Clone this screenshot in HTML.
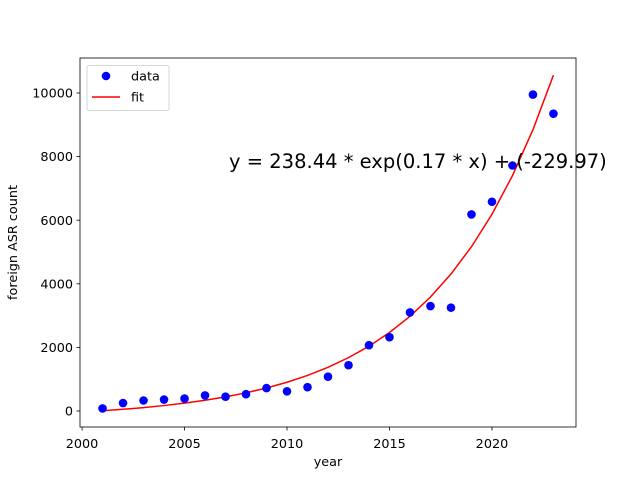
<!DOCTYPE html>
<html><head><meta charset="utf-8"><style>
body{margin:0;background:#fff}
svg{display:block;font-family:"DejaVu Sans","Liberation Sans",sans-serif}
</style></head><body>
<svg id="c" width="640" height="480">
<rect width="640" height="480" fill="#fff"/>
</svg>
<script>
const years=[2001,2002,2003,2004,2005,2006,2007,2008,2009,2010,2011,2012,2013,2014,2015,2016,2017,2018,2019,2020,2021,2022,2023];
const counts=[80,250,330,360,390,490,450,530,720,620,750,1080,1440,2070,2320,3100,3300,3250,6180,6580,7720,9950,9350];
const fitValues=[8,54,107,171,247,337,445,572,724,904,1119,1374,1678,2038,2468,2978,3585,4307,5166,6187,7400,8845,10562];
const xTicks=[2000,2005,2010,2015,2020];
const yTicks=[0,2000,4000,6000,8000,10000];
const L=80,R=576,T=58,B=427;
const x0=1999.9,x1=2024.1,y0=-503,y1=11100;
const sx=v=>L+(v-x0)/(x1-x0)*(R-L);
const sy=v=>B-(v-y0)/(y1-y0)*(B-T);
const svg=document.getElementById('c');
const NS='http://www.w3.org/2000/svg';
function mk(t,a,p){const e=document.createElementNS(NS,t);for(const k in a)e.setAttribute(k,a[k]);(p||svg).appendChild(e);return e;}
let d=years.map((y,i)=>(i?'L':'M')+sx(y)+','+sy(fitValues[i])).join('');
let fl=mk('path',{d:d,fill:'none',stroke:'#f00','stroke-width':1.5});


years.forEach((y,i)=>{
 let c=mk('circle',{cx:sx(y),cy:sy(counts[i]),r:4.3,fill:'#00f'});
 
 
});
let fr=mk('rect',{x:L,y:T,width:R-L,height:B-T,fill:'none',stroke:'#000','stroke-width':0.8});


xTicks.forEach(v=>{
 mk('line',{x1:sx(v),x2:sx(v),y1:B,y2:B+3.5,stroke:'#000','stroke-width':0.8});
 let t=mk('text',{x:sx(v),y:448,'font-size':12.8,'text-anchor':'middle'});t.textContent=v;
 
 
});
yTicks.forEach(v=>{
 mk('line',{x1:L-3.5,x2:L,y1:sy(v),y2:sy(v),stroke:'#000','stroke-width':0.8});
 let t=mk('text',{x:L-7,y:sy(v)+4.6,'font-size':12.8,'text-anchor':'end'});t.textContent=v;
 
 
});
let xl=mk('text',{x:(L+R)/2,y:466,'font-size':12.8,'text-anchor':'middle'});xl.textContent='year';


let yl=mk('text',{x:17,y:(T+B)/2,'font-size':12.8,'text-anchor':'middle',transform:'rotate(-90 17 '+(T+B)/2+')'});yl.textContent='foreign ASR count';


let eq=mk('text',{x:229,y:168,'font-size':19.5});eq.textContent='y = 238.44 * exp(0.17 * x) + (-229.97)';


let lg=mk('g',{});


mk('rect',{x:87,y:65.5,width:82,height:45,rx:2,fill:'#fff',stroke:'#ccc','stroke-width':0.8},lg);
mk('circle',{cx:106,cy:76,r:4.3,fill:'#00f'},lg);
let t1=mk('text',{x:131,y:80.5,'font-size':12.8},lg);t1.textContent='data';


mk('line',{x1:92,x2:120,y1:97,y2:97,stroke:'#f00','stroke-width':1.5},lg);
let t2=mk('text',{x:131,y:101.5,'font-size':12.8},lg);t2.textContent='fit';


</script>
</body></html>
